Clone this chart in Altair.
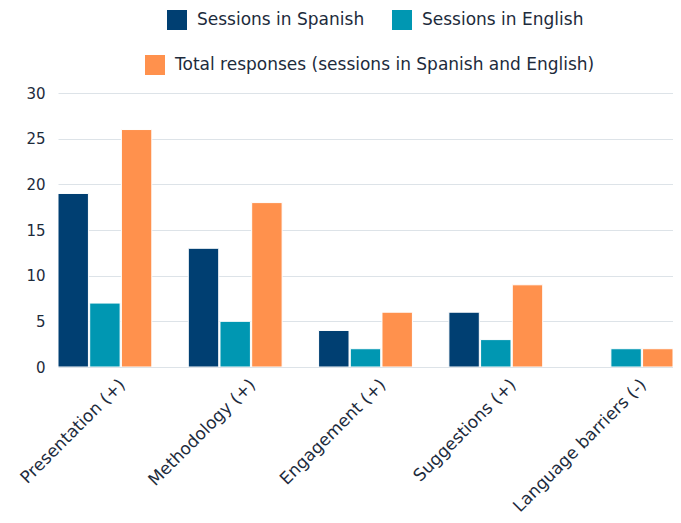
import altair as alt
import pandas as pd

categories = ["Presentation (+)", "Methodology (+)", "Engagement (+)",
              "Suggestions (+)", "Language barriers (-)"]
series_names = ["Sessions in Spanish", "Sessions in English",
                "Total responses (sessions in Spanish and English)"]
spanish = [19, 13, 4, 6, 0]
english = [7, 5, 2, 3, 2]
total = [26, 18, 6, 9, 2]
colors = ["#003f72", "#0097b2", "#ff914d"]
y_ticks = [0, 5, 10, 15, 20, 25, 30]

rows = []
for s, vals in zip(series_names, [spanish, english, total]):
    for c, v in zip(categories, vals):
        rows.append({"category": c, "series": s, "value": v})
df = pd.DataFrame(rows)

FONT = "DejaVu Sans"
TEXT = "#1d2b3c"
GRID = "#dde3e8"

x = alt.X("category:N", sort=categories, title=None,
          scale=alt.Scale(paddingInner=0.28, paddingOuter=0),
          axis=alt.Axis(labelAngle=315, labelFontSize=17, labelColor=TEXT,
                        labelFont=FONT, domain=False, ticks=False,
                        labelPadding=9, labelOffset=12, grid=False,
                        labelAlign="right", labelBaseline="top",
                        labelLimit=400))
xoff = alt.XOffset("series:N", sort=series_names,
                   scale=alt.Scale(domain=series_names, paddingInner=0.04,
                                   paddingOuter=0))
y = alt.Y("value:Q", title=None, scale=alt.Scale(domain=[0, 30]),
          axis=alt.Axis(values=y_ticks, labelFontSize=15, labelColor=TEXT,
                        labelFont=FONT, domain=False, ticks=False,
                        labelPadding=13, gridColor=GRID, gridWidth=1,
                        minExtent=50))

base = alt.Chart(df).encode(x=x, xOffset=xoff, y=y)

legend_common = dict(orient="none", direction="horizontal", symbolType="square",
                     symbolSize=400, symbolStrokeWidth=0, labelFontSize=17,
                     labelFont=FONT, labelColor=TEXT, labelOffset=10,
                     columnPadding=27, padding=0, title=None, labelLimit=600)

layer_a = base.transform_filter(
    alt.FieldOneOfPredicate(field="series", oneOf=series_names[:2])
).mark_bar(clip=True, stroke="white", strokeWidth=1).encode(
    color=alt.Color("series:N", sort=series_names[:2],
                    scale=alt.Scale(domain=series_names[:2], range=colors[:2]),
                    legend=alt.Legend(legendX=109, legendY=-83, **legend_common))
)

layer_b = base.transform_filter(
    alt.FieldOneOfPredicate(field="series", oneOf=series_names[2:])
).mark_bar(clip=True, stroke="white", strokeWidth=1).encode(
    color=alt.Color("series:N",
                    scale=alt.Scale(domain=series_names[2:], range=colors[2:]),
                    legend=alt.Legend(legendX=87, legendY=-38, **legend_common))
)

chart = alt.layer(layer_a, layer_b).resolve_scale(color="independent").properties(
    width=615, height=274,
    padding={"top": 2, "left": 0, "right": 0, "bottom": 0},
    background="white",
).configure_view(stroke=None)

chart.save("out.html", embed_options={"renderer": "svg", "actions": False})
